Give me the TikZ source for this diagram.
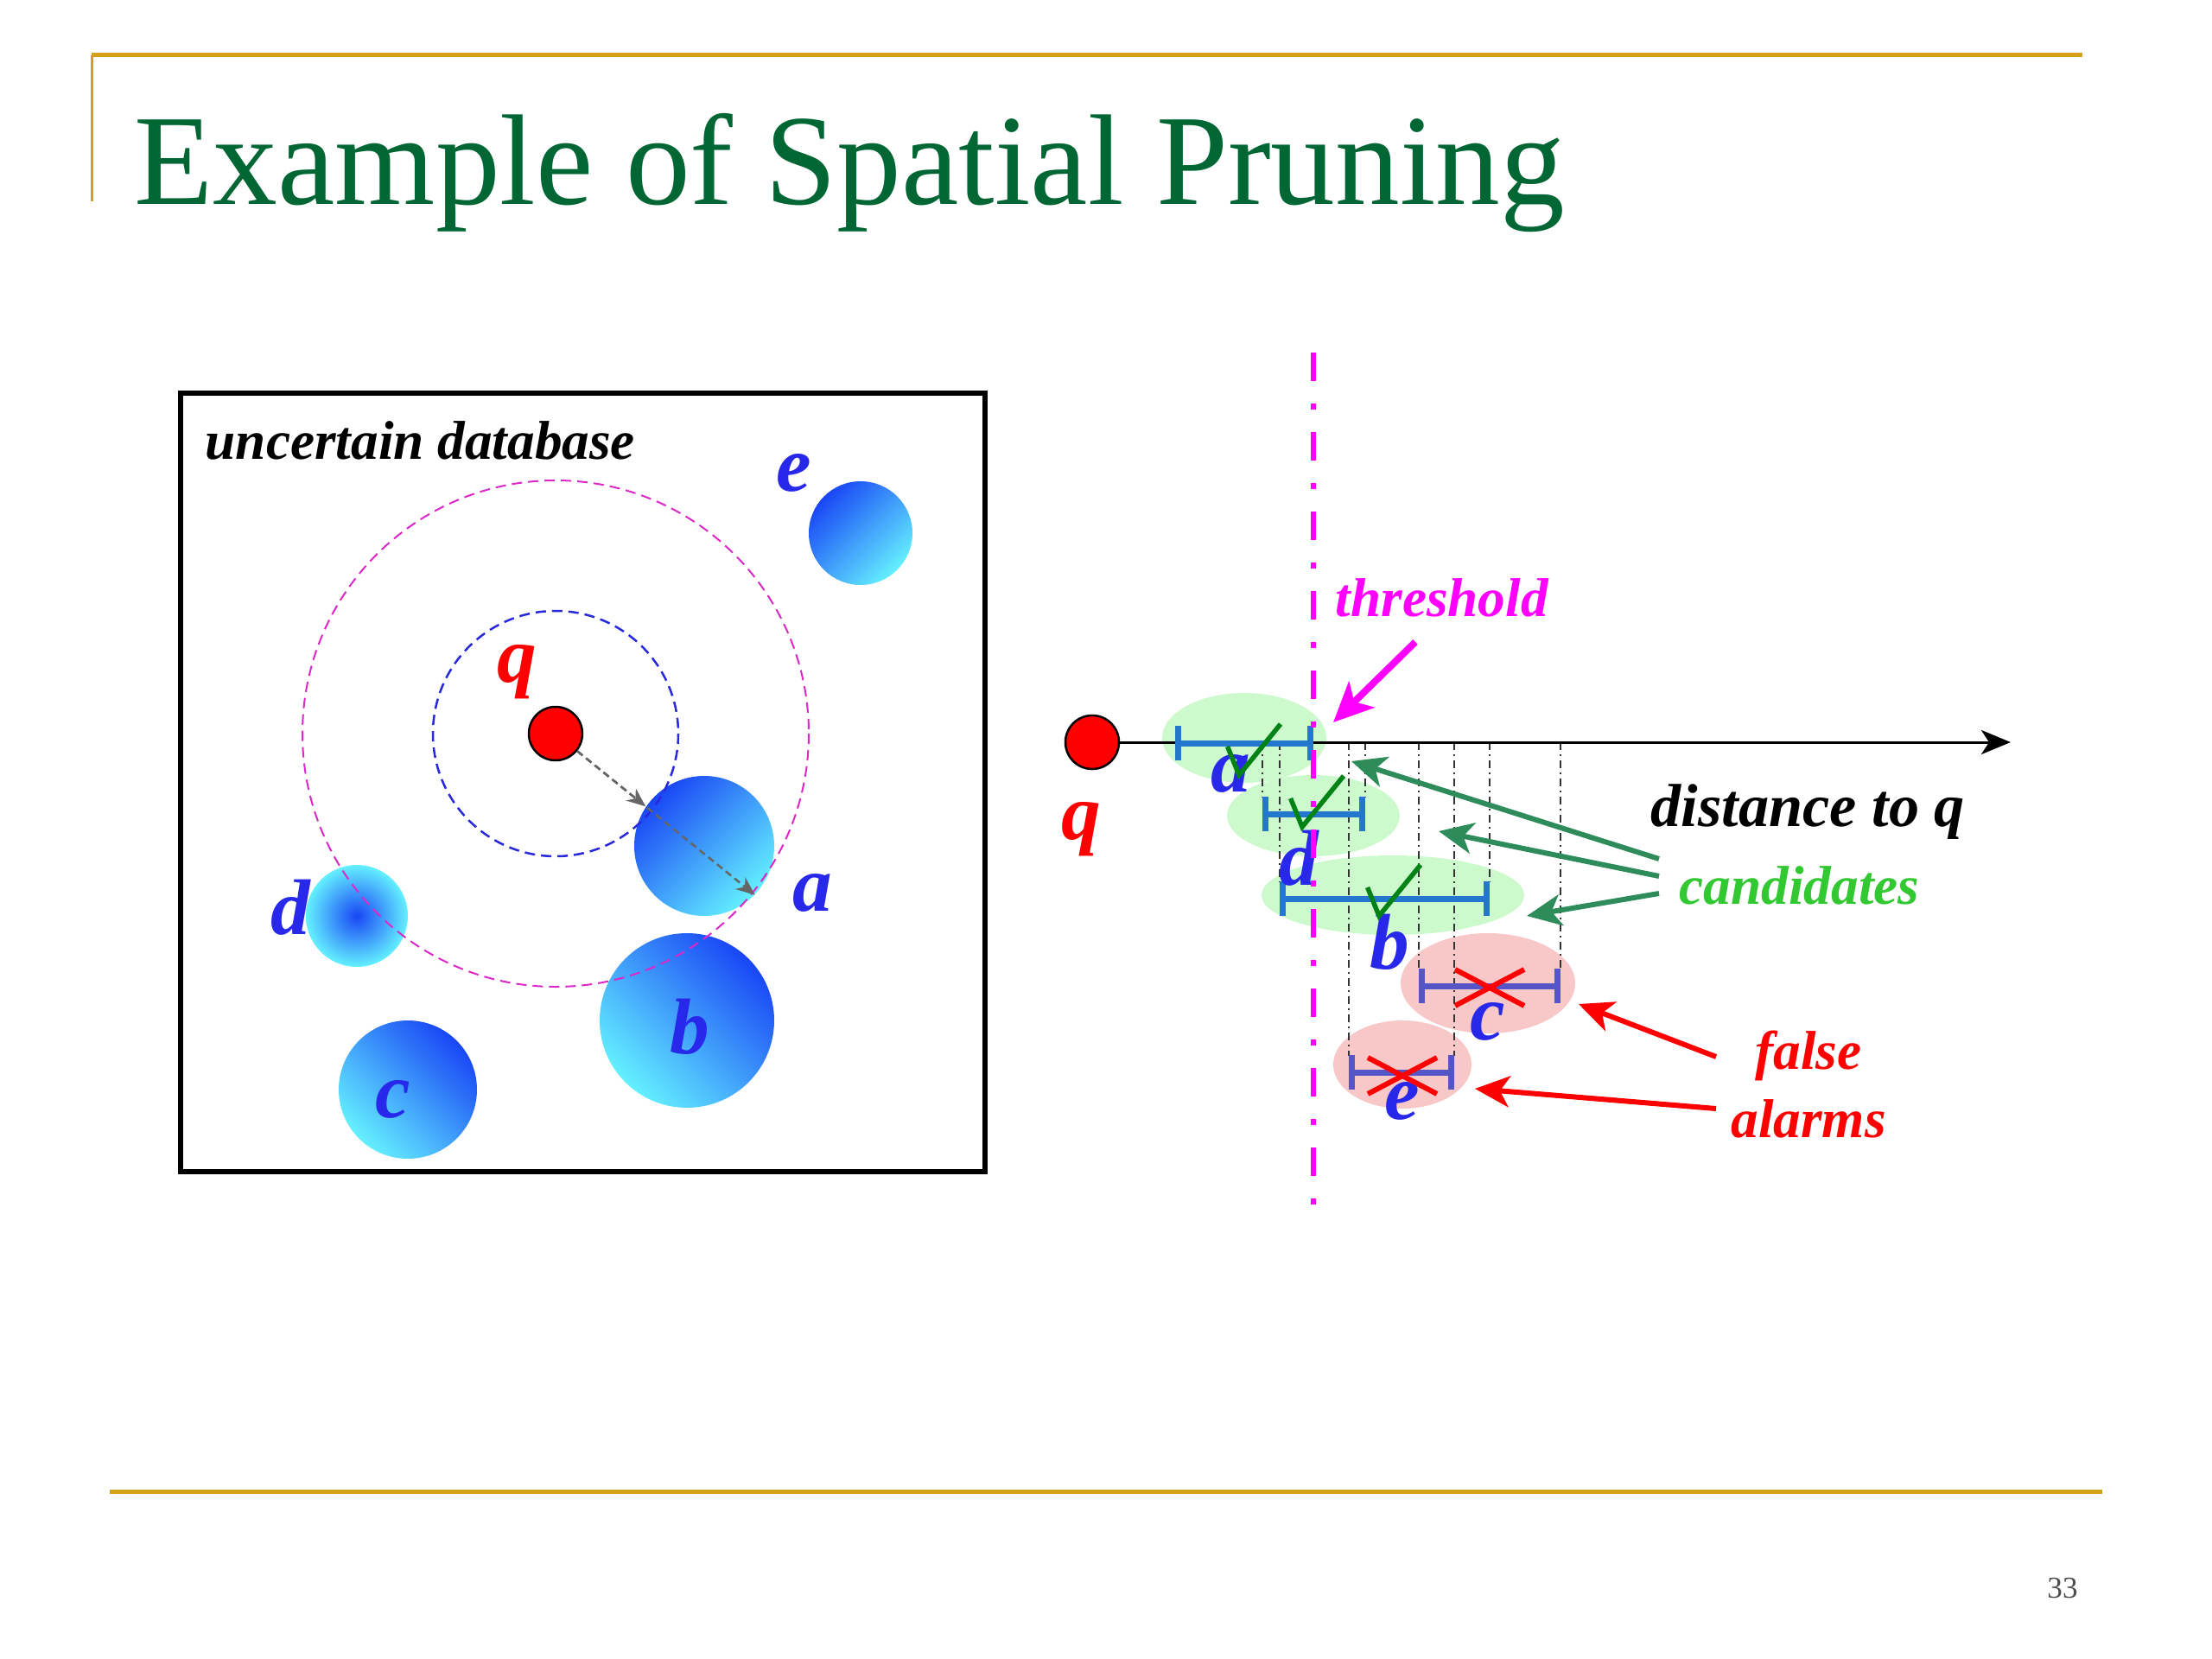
\documentclass[tikz,border=0pt]{standalone}
\usepackage{fontspec}
\setmainfont{Liberation Serif}
\usepackage{tikz}
\usetikzlibrary{arrows.meta, positioning, calc}
\definecolor{TitleGreen}{RGB}{0,102,51}
\definecolor{RuleGold}{RGB}{212,160,23}
\definecolor{LabelBlue}{RGB}{40,40,235}
\definecolor{DiskDark}{RGB}{25,70,245}
\definecolor{DiskLight}{RGB}{100,240,255}
\definecolor{CandFill}{RGB}{205,250,205}
\definecolor{AlarmFill}{RGB}{248,200,200}
\definecolor{IvlBlue}{RGB}{35,120,205}
\definecolor{IvlPurple}{RGB}{85,85,200}
\definecolor{ArrowTeal}{RGB}{45,140,90}
\definecolor{CandText}{RGB}{50,200,50}
\definecolor{CheckGreen}{RGB}{0,130,20}
\definecolor{RingPink}{RGB}{220,40,200}
\definecolor{RingBlue}{RGB}{40,40,220}
\definecolor{Thresh}{RGB}{255,0,255}

% check mark and cross, given the point of the mark
\newcommand{\chkat}[1]{\draw[chk] (#1) ++(-0.134,-0.33) -- (#1) -- ++(0.48,-0.59);}
\newcommand{\crossat}[1]{\draw[crs] (#1) ++(-0.40,-0.21) -- ++(0.80,0.42) (#1) ++(-0.40,0.21) -- ++(0.80,-0.42);}

\begin{document}
\begin{tikzpicture}[x=1cm, y=-1cm,
  lbl/.style={font=\fontsize{26}{30}\selectfont\bfseries\itshape, text=LabelBlue, inner sep=0pt},
  note/.style={font=\fontsize{18}{22}\selectfont\bfseries\itshape, inner sep=0pt},
  disk/.style={circle, inner sep=0pt},
  qpt/.style={circle, draw=black, line width=0.025cm, fill=red, minimum size=0.62cm, inner sep=0pt},
  rng/.style={line width=0.025cm, dash pattern=on 0.12cm off 0.07cm},
  ivl/.style={line width=0.07cm, {Bar[width=0.40cm]}-{Bar[width=0.40cm]}},
  guide/.style={black!80, line width=0.02cm, dash pattern=on 0.09cm off 0.05cm on 0.02cm off 0.05cm},
  chk/.style={CheckGreen, line width=0.055cm},
  crs/.style={red, line width=0.06cm},
  thr/.style={Thresh, line width=0.06cm, dash pattern=on 0.33cm off 0.26cm on 0.07cm off 0.26cm},
  ptr/.style={line width=0.06cm, -{Stealth[length=0.40cm, width=0.36cm, inset=0.11cm]}},
  rule/.style={RuleGold, line width=0.05cm}
]
  \useasboundingbox (0,0) rectangle (25.6,19.2);

  % ---- slide frame ----
  \draw[rule] (1.06,0.64) -- (24.10,0.64);
  \draw[rule, line width=0.03cm] (1.06,0.64) -- (1.06,2.33);
  \draw[rule] (1.27,17.26) -- (24.33,17.26);
  \node[anchor=base west, inner sep=0pt, text=TitleGreen, font=\fontsize{42.5}{50}\selectfont] (title) at (1.55,2.37) {Example of Spatial Pruning};
  \node[text=black!70, font=\fontsize{10}{12}\selectfont] (pgnum) at (23.87,18.38) {33};

  % ---- uncertain database (left) ----
  \draw[line width=0.065cm] (2.09,4.55) rectangle (11.40,13.56);
  \node[note, anchor=west] (udb) at (2.37,5.10) {uncertain database};
  \coordinate (qc) at (6.43,8.49);

  \node[disk, minimum size=1.20cm, top color=DiskDark, bottom color=DiskLight, shading angle=45] (de) at (9.96,6.17) {};
  \node[disk, minimum size=1.62cm, top color=DiskDark, bottom color=DiskLight, shading angle=45] (da) at (8.15,9.79) {};
  \node[disk, minimum size=1.18cm, inner color=DiskDark, outer color=DiskLight] (dd) at (4.13,10.60) {};
  \node[disk, minimum size=2.02cm, top color=DiskDark, bottom color=DiskLight, shading angle=-45] (db) at (7.95,11.81) {};
  \node[disk, minimum size=1.60cm, top color=DiskDark, bottom color=DiskLight, shading angle=-45] (dc) at (4.72,12.61) {};

  \draw[rng, RingBlue] (qc) circle (1.42);
  \draw[rng, RingPink, line width=0.02cm] (qc) circle (2.93);

  \node[qpt] (qL) at (qc) {};
  \draw[black!60, line width=0.025cm, dash pattern=on 0.08cm off 0.05cm, -{Stealth[length=0.22cm, width=0.18cm]}] (qL) -- (da.146);
  \draw[black!60, line width=0.025cm, dash pattern=on 0.08cm off 0.05cm, -{Stealth[length=0.22cm, width=0.18cm]}] (qL) -- (da.-44);

  \node[lbl, text=red] (qLl) at (5.98,7.78) {q};
  \node[lbl] (el) at (9.19,5.47) {e};
  \node[lbl] (al) at (9.40,10.33) {a};
  \node[lbl] (dl) at (3.36,10.50) {d};
  \node[lbl] (bl) at (7.98,11.88) {b};
  \node[lbl] (cl) at (4.55,12.72) {c};

  % ---- distance intervals (right) ----
  \fill[CandFill] (14.40,8.54) ellipse [x radius=0.95, y radius=0.52];
  \fill[CandFill] (15.20,9.44) ellipse [x radius=1.00, y radius=0.47];
  \fill[CandFill] (16.12,10.36) ellipse [x radius=1.52, y radius=0.46];
  \fill[AlarmFill] (17.22,11.38) ellipse [x radius=1.01, y radius=0.58];
  \fill[AlarmFill] (16.23,12.32) ellipse [x radius=0.80, y radius=0.51];

  \foreach \gx/\gy in {14.61/9.23, 14.81/10.21, 15.61/12.22, 15.80/9.23,
                       16.42/11.22, 16.83/12.22, 17.24/10.21, 18.06/11.22}
    \draw[guide] (\gx,8.59) -- (\gx,\gy);

  \node[qpt] (qR) at (12.64,8.59) {};
  \coordinate (axend) at (23.27,8.59);
  \draw[line width=0.03cm, -{Stealth[length=0.34cm, width=0.28cm, inset=0.09cm]}] (qR) -- (axend);

  \draw[ivl, IvlBlue] (13.60,8.60) -- (15.20,8.60);
  \draw[ivl, IvlBlue] (14.61,9.42) -- (15.80,9.42);
  \draw[ivl, IvlBlue] (14.81,10.40) -- (17.24,10.40);
  \draw[ivl, IvlPurple] (16.42,11.41) -- (18.06,11.41);
  \draw[ivl, IvlPurple] (15.61,12.41) -- (16.83,12.41);

  \node[lbl, text=red] (qRl) at (12.51,9.60) {q};
  \node[lbl] (ar) at (14.24,8.95) {a};
  \node[lbl] (dr) at (15.03,9.93) {d};
  \node[lbl] (br) at (16.08,10.90) {b};
  \node[lbl] (cr) at (17.22,11.82) {c};
  \node[lbl] (er) at (16.23,12.74) {e};

  \chkat{14.34,8.97}
  \chkat{15.07,9.57}
  \chkat{15.96,10.60}
  \crossat{17.24,11.43}
  \crossat{16.23,12.45}

  \coordinate (thtop) at (15.20,4.08);
  \coordinate (thbot) at (15.20,13.96);
  \draw[thr] (thtop) -- (thbot);

  % labels and pointers
  \node[note, text=Thresh, anchor=west] (thl) at (15.45,6.92) {threshold};
  \node[note, font=\fontsize{20}{24}\selectfont\bfseries\itshape, anchor=west] (dist) at (19.10,9.40) {distance to q};
  \node[note, text=CandText, anchor=west] (cand) at (19.43,10.25) {candidates};
  \node[note, text=red, align=center, font=\fontsize{18}{22.5}\selectfont\bfseries\itshape] (fal) at (20.93,12.55) {false\\alarms};

  \coordinate (ths) at (16.38,7.43);
  \coordinate (the) at (15.43,8.36);
  \draw[ptr, Thresh, line width=0.08cm, -{Stealth[length=0.46cm, width=0.42cm, inset=0.12cm]}] (ths) -- (the);

  \coordinate (c1s) at (19.20,9.94);  \coordinate (c1e) at (15.64,8.81);
  \coordinate (c2s) at (19.20,10.14); \coordinate (c2e) at (16.65,9.62);
  \coordinate (c3s) at (19.20,10.34); \coordinate (c3e) at (17.67,10.60);
  \draw[ptr, ArrowTeal] (c1s) -- (c1e);
  \draw[ptr, ArrowTeal] (c2s) -- (c2e);
  \draw[ptr, ArrowTeal] (c3s) -- (c3e);

  \coordinate (f1s) at (19.86,12.23); \coordinate (f1e) at (18.27,11.62);
  \coordinate (f2s) at (19.86,12.83); \coordinate (f2e) at (17.07,12.60);
  \draw[ptr, red] (f1s) -- (f1e);
  \draw[ptr, red] (f2s) -- (f2e);
\end{tikzpicture}
\end{document}
